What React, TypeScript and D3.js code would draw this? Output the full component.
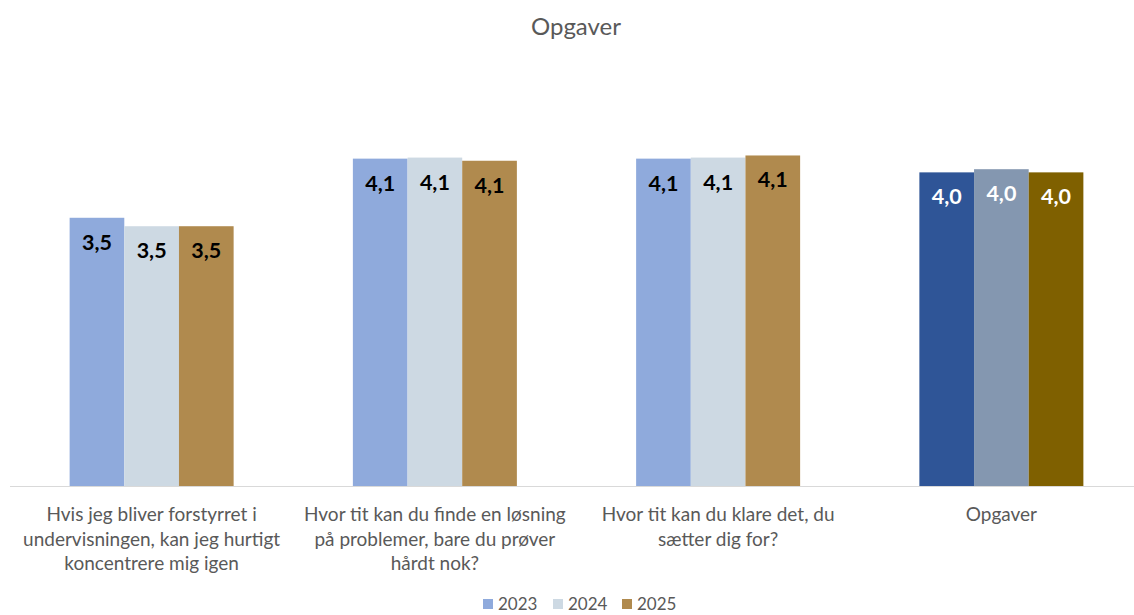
import React from "react";
import * as d3 from "d3";

const title = "Opgaver";
const categories = [
  "Hvis jeg bliver forstyrret i undervisningen, kan jeg hurtigt koncentrere mig igen",
  "Hvor tit kan du finde en løsning på problemer, bare du prøver hårdt nok?",
  "Hvor tit kan du klare det, du sætter dig for?",
  "Opgaver",
];
const categoryLines = [
  ["Hvis jeg bliver forstyrret i", "undervisningen, kan jeg hurtigt", "koncentrere mig igen"],
  ["Hvor tit kan du finde en løsning", "på problemer, bare du prøver", "hårdt nok?"],
  ["Hvor tit kan du klare det, du", "sætter dig for?"],
  ["Opgaver"],
];
const seriesNames = ["2023", "2024", "2025"];
const values2023 = [3.54, 4.1, 4.1, 3.97];
const values2024 = [3.46, 4.11, 4.11, 4.0];
const values2025 = [3.46, 4.08, 4.13, 3.97];
const seriesValues = [values2023, values2024, values2025];

const normalColors = ["#8FAADC", "#CDD9E3", "#B08A4E"];
const summaryColors = ["#2F5597", "#8497B0", "#7F6000"];

const W = 1134;
const H = 615;
const baseY = 486;
const FONT = "Lato, 'Open Sans', sans-serif";

export default function App() {
  const x0 = d3.scaleBand<string>().domain(categories).range([10, 1143]).paddingInner(0).paddingOuter(0);
  const x1 = d3.scaleBand<string>().domain(seriesNames).range([0, 164]);
  const y = d3.scaleLinear().domain([1, 5]).range([baseY, 63.6]);
  const fmt = (v: number) => d3.format(".1f")(v).replace(".", ",");

  const legendX = [483, 553, 622];

  return (
    <svg width={W} height={H} style={{ position: "absolute", left: 0, top: 0, background: "#fff" }}>
      <text x={576} y={35} textAnchor="middle" fontFamily={FONT} fontSize={24} fill="#595959">
        {title}
      </text>
      <line x1={10} x2={W} y1={baseY + 0.5} y2={baseY + 0.5} stroke="#D9D9D9" strokeWidth={1} />
      {categories.map((c, ci) => {
        const cx = (x0(c) as number) + x0.bandwidth() / 2;
        const gx = cx - 82;
        const isSummary = ci === categories.length - 1;
        return (
          <g key={c}>
            {seriesNames.map((s, si) => {
              const v = seriesValues[si][ci];
              const bx = gx + (x1(s) as number);
              const top = y(v);
              return (
                <g key={s}>
                  <rect
                    x={bx}
                    y={top}
                    width={x1.bandwidth()}
                    height={baseY - top}
                    fill={isSummary ? summaryColors[si] : normalColors[si]}
                  />
                  <text
                    x={bx + x1.bandwidth() / 2}
                    y={top + 32}
                    textAnchor="middle"
                    fontFamily={FONT}
                    fontWeight="bold"
                    fontSize={21.5}
                    fill={isSummary ? "#FFFFFF" : "#000000"}
                  >
                    {fmt(v)}
                  </text>
                </g>
              );
            })}
            {categoryLines[ci].map((ln, li) => (
              <text
                key={li}
                x={cx}
                y={521 + li * 24.5}
                textAnchor="middle"
                fontFamily={FONT}
                fontSize={19}
                fill="#595959"
              >
                {ln}
              </text>
            ))}
          </g>
        );
      })}
      {seriesNames.map((s, si) => (
        <g key={s}>
          <rect x={legendX[si]} y={599} width={10} height={10} fill={normalColors[si]} />
          <text x={legendX[si] + 15} y={610} fontFamily={FONT} fontSize={17} fill="#595959">
            {s}
          </text>
        </g>
      ))}
    </svg>
  );
}
